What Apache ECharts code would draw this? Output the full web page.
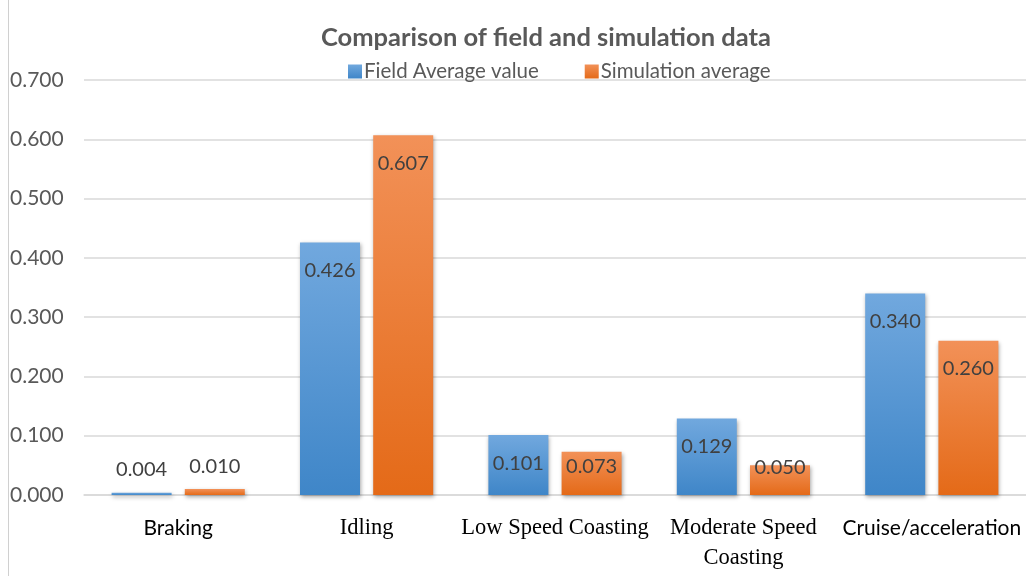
<!DOCTYPE html>
<html>
<head>
<meta charset="utf-8">
<script src="https://cdn.jsdelivr.net/npm/echarts@6/dist/echarts.min.js"></script>
<style>
  html, body { margin: 0; padding: 0; background: #ffffff; }
  #chart { width: 1026px; height: 576px; }
</style>
</head>
<body>
<div id="chart"></div>
<script>
// Driving-mode categories and the two averaged series
const categories = ['Braking', 'Idling', 'Low Speed Coasting', 'Moderate Speed\nCoasting', 'Cruise/acceleration'];
const fieldAverage = [0.004, 0.426, 0.101, 0.129, 0.340];
const simulationAverage = [0.010, 0.607, 0.073, 0.050, 0.260];
const seriesNames = ['Field Average value', 'Simulation average'];

// Category label styles: some labels are set in a serif face, others in a sans face
const labelStyle = ['sans', 'serif', 'serif', 'serif', 'sans'];

const chart = echarts.init(document.getElementById('chart'));

const grad = (top, bottom) => new echarts.graphic.LinearGradient(0, 0, 0, 1, [
  { offset: 0, color: top },
  { offset: 1, color: bottom }
]);

const valueLabel = {
  show: true,
  position: 'insideTop',
  distance: 18,
  fontFamily: 'Lato, "Liberation Sans", sans-serif',
  fontSize: 20,
  color: '#404040',
  formatter: p => p.value.toFixed(3)
};

// Tiny bars carry their label above the bar; shorter bars pull the label up toward the top
function withLabels(values) {
  return values.map(v => {
    if (v < 0.03) return { value: v, label: { position: 'top', distance: 13 } };
    if (v < 0.06) return { value: v, label: { position: 'top', distance: -12 } };
    if (v < 0.09) return { value: v, label: { position: 'insideTop', distance: 5 } };
    return v;
  });
}

const barShadow = {
  shadowBlur: 4,
  shadowColor: 'rgba(0,0,0,0.35)',
  shadowOffsetX: 1,
  shadowOffsetY: 2
};

chart.setOption({
  backgroundColor: '#ffffff',
  animation: false,
  title: {
    text: 'Comparison of field and simulation data',
    left: 316,
    top: 20,
    textStyle: {
      fontFamily: 'Lato, "Liberation Sans", sans-serif',
      fontWeight: 'bold',
      fontSize: 25.5,
      color: '#595959'
    }
  },
  legend: {
    data: seriesNames,
    top: 56,
    left: 343,
    itemWidth: 14,
    itemHeight: 14,
    itemGap: 46,
    icon: 'rect',
    textStyle: {
      fontFamily: 'Lato, "Liberation Sans", sans-serif',
      fontSize: 20.5,
      color: '#595959',
      padding: [0, 0, 0, -3]
    }
  },
  grid: { left: 84, right: -4, top: 80, bottom: 81, containLabel: false },
  xAxis: {
    type: 'category',
    data: categories,
    axisLine: { show: true, lineStyle: { color: '#d9d9d9', width: 1.5 } },
    axisTick: { show: false },
    axisLabel: {
      interval: 0,
      margin: 18,
      lineHeight: 30,
      formatter: (val, idx) => {
        const s = labelStyle[idx];
        return val.split('\n').map(line => '{' + s + '|' + line + '}').join('\n');
      },
      rich: {
        sans: {
          fontFamily: 'Lato, "Liberation Sans", sans-serif',
          fontSize: 21,
          color: '#000000',
          lineHeight: 30
        },
        serif: {
          fontFamily: '"Liberation Serif", "DejaVu Serif", serif',
          fontSize: 22.5,
          color: '#000000',
          lineHeight: 30
        }
      }
    }
  },
  yAxis: {
    type: 'value',
    min: 0,
    max: 0.7,
    interval: 0.1,
    axisLine: { show: false },
    axisTick: { show: false },
    splitLine: { lineStyle: { color: '#d9d9d9', width: 1.5 } },
    axisLabel: {
      align: 'left',
      margin: 74,
      fontFamily: 'Lato, "Liberation Sans", sans-serif',
      fontSize: 21,
      color: '#595959',
      formatter: v => v.toFixed(3)
    }
  },
  series: [
    {
      name: seriesNames[0],
      type: 'bar',
      data: withLabels(fieldAverage),
      barWidth: 60,
      barGap: '22%',
      itemStyle: Object.assign({ color: grad('#71a8de', '#3f86c8') }, barShadow),
      label: valueLabel
    },
    {
      name: seriesNames[1],
      type: 'bar',
      data: withLabels(simulationAverage),
      barWidth: 60,
      itemStyle: Object.assign({ color: grad('#f29158', '#e46a18') }, barShadow),
      label: valueLabel
    }
  ],
  graphic: [
    {
      type: 'line',
      shape: { x1: 8.5, y1: 0, x2: 8.5, y2: 576 },
      style: { stroke: '#d0d0d0', lineWidth: 1 }
    }
  ]
});
</script>
</body>
</html>
